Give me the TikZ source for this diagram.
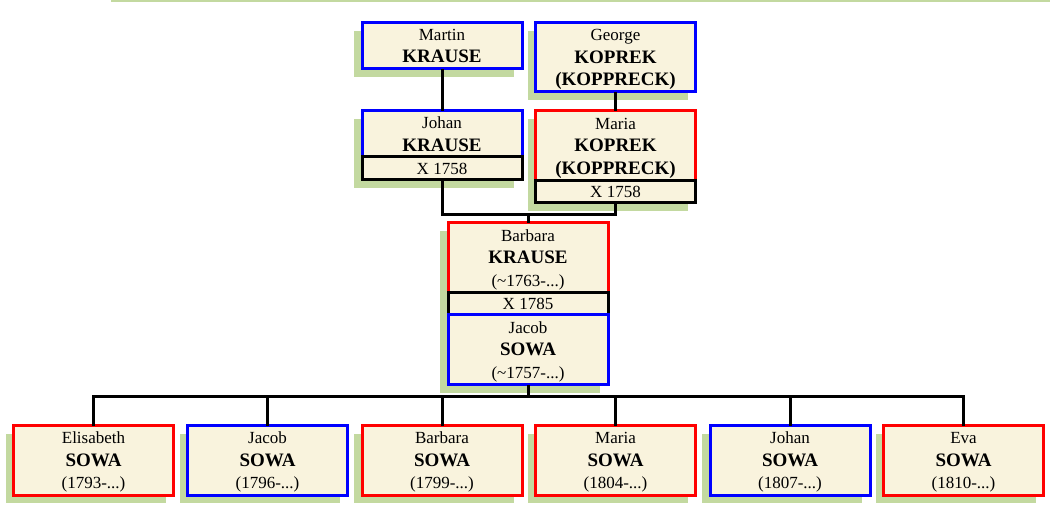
\documentclass[tikz,border=0pt]{standalone}
\usepackage{fontspec}
\setmainfont{Liberation Serif}
\definecolor{boxcream}{HTML}{F9F3DD}
\definecolor{shadegreen}{HTML}{C3D9A0}
\usetikzlibrary{positioning,shadows}
\newcommand{\surname}[1]{{\fontsize{19}{22.5}\selectfont\bfseries #1}}

\begin{document}
\begin{tikzpicture}[x=1pt,y=-1pt,
    person/.style={draw,fill=boxcream,line width=3pt,minimum width=160pt,
                   inner sep=0pt,outer sep=0pt,align=center,text depth=-4pt,
                   font=\fontsize{17}{22.5}\selectfont,
                   general shadow={fill=shadegreen,shadow xshift=-8pt,
                                   shadow yshift=-8pt}},
    male/.style={person,draw=blue},
    female/.style={person,draw=red},
    wedding/.style={person,draw=black,minimum height=23pt},
    link/.style={line width=3pt}]
  \useasboundingbox (0,0) rectangle (1050,510);
  \draw[shadegreen,line width=2pt] (111,1) -- (1050,1);

  % grandparents
  \node[male,minimum height=46pt] (mk) at (442,46) {Martin\\\surname{KRAUSE}};
  \node[male,minimum height=69pt] (gk) at (615.5,57.5)
        {George\\\surname{KOPREK}\\\surname{(KOPPRECK)}};

  % parents
  \node[male,minimum height=46pt] (jk) at (442,134) {Johan\\\surname{KRAUSE}};
  \node[wedding,below=0pt of jk] (jkrow) {X 1758};
  \node[female,minimum height=70pt] (mko) at (615.5,146)
        {Maria\\\surname{KOPREK}\\\surname{(KOPPRECK)}};
  \node[wedding,minimum height=22pt,below=0pt of mko] (mkrow) {X 1758};

  % couple
  \node[female,minimum height=70pt] (bk) at (528,258)
        {Barbara\\\surname{KRAUSE}\\(\textasciitilde1763-...)};
  \node[wedding,minimum height=22pt,below=0pt of bk] (bkrow) {X 1785};
  \node[male,minimum height=70pt,below=0pt of bkrow] (js)
        {Jacob\\\surname{SOWA}\\(\textasciitilde1757-...)};

  % children
  \node[female,minimum height=69pt] (c1) at (93.5,460.5) {Elisabeth\\\surname{SOWA}\\(1793-...)};
  \node[male,minimum height=69pt]   (c2) at (267.5,460.5) {Jacob\\\surname{SOWA}\\(1796-...)};
  \node[female,minimum height=69pt] (c3) at (442,460.5) {Barbara\\\surname{SOWA}\\(1799-...)};
  \node[female,minimum height=69pt] (c4) at (615.5,460.5) {Maria\\\surname{SOWA}\\(1804-...)};
  \node[male,minimum height=69pt]   (c5) at (790,460.5) {Johan\\\surname{SOWA}\\(1807-...)};
  \node[female,minimum height=69pt] (c6) at (963.5,460.5) {Eva\\\surname{SOWA}\\(1810-...)};

  % links
  \coordinate (wed) at (528,215);
  \coordinate (bar) at (528,397);
  \draw[link] (mk) -- (jk);
  \draw[link] (gk) -- (mko);
  \draw[link] (jkrow.south) |- (wed) -| (mkrow.south);
  \draw[link] (wed) -- (bk.north);
  \draw[link] (js.south) -- (bar);
  \foreach \c in {c1,c2,c3,c4,c5,c6}
    \draw[link] (\c.north) |- (bar);
\end{tikzpicture}
\end{document}
